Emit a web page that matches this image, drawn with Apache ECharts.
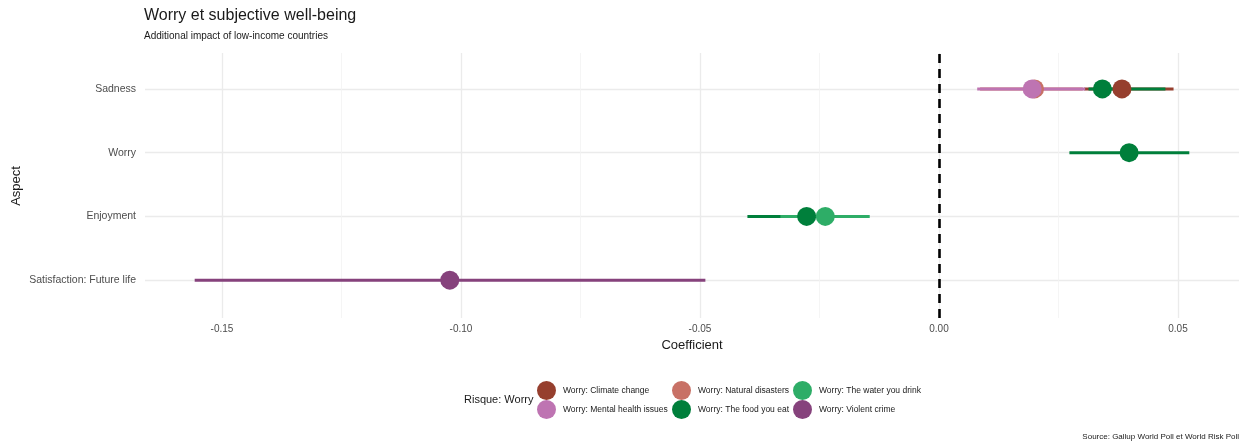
<!DOCTYPE html>
<html>
<head>
<meta charset="utf-8">
<script src="https://cdn.jsdelivr.net/npm/echarts@6/dist/echarts.min.js"></script>
<style>
  html, body { margin: 0; padding: 0; background: #fff; }
  #chart { width: 1242px; height: 448px; }
</style>
</head>
<body>
<div id="chart"></div>
<script>
// aspects, top to bottom
const aspects = ['Sadness', 'Worry', 'Enjoyment', 'Satisfaction: Future life'];
const xTicks = [-0.15, -0.1, -0.05, 0, 0.05];

// coef / lower / upper per risk, one value per aspect (null = not shown)
const climateCoef = [0.0382, null, null, null];
const climateLo = [0.0303, null, null, null];
const climateHi = [0.0490, null, null, null];

const mentalCoef = [0.0194, null, null, null];
const mentalLo = [0.0079, null, null, null];
const mentalHi = [0.0305, null, null, null];

const naturalCoef = [0.0199, null, null, null];
const naturalLo = [0.0085, null, null, null];
const naturalHi = [0.0300, null, null, null];

const foodCoef = [0.0341, 0.0397, -0.0278, null];
const foodLo = [0.0312, 0.0272, -0.0402, null];
const foodHi = [0.0473, 0.0523, -0.0160, null];

const waterCoef = [null, null, -0.0239, null];
const waterLo = [null, null, -0.0333, null];
const waterHi = [null, null, -0.0146, null];

const violentCoef = [null, null, null, -0.1025];
const violentLo = [null, null, null, -0.1559];
const violentHi = [null, null, null, -0.0490];

const risks = [
  { name: 'Worry: Climate change', color: '#963F2E', coef: climateCoef, lo: climateLo, hi: climateHi },
  { name: 'Worry: Mental health issues', color: '#BE74B2', coef: mentalCoef, lo: mentalLo, hi: mentalHi },
  { name: 'Worry: Natural disasters', color: '#C87166', coef: naturalCoef, lo: naturalLo, hi: naturalHi },
  { name: 'Worry: The food you eat', color: '#007F3B', coef: foodCoef, lo: foodLo, hi: foodHi },
  { name: 'Worry: The water you drink', color: '#2EAD67', coef: waterCoef, lo: waterLo, hi: waterHi },
  { name: 'Worry: Violent crime', color: '#86427C', coef: violentCoef, lo: violentLo, hi: violentHi },
];
const byName = {};
risks.forEach(r => { byName[r.name] = r; });

// drawing order (later = on top)
const lineOrder = ['Worry: Climate change', 'Worry: Natural disasters', 'Worry: The food you eat',
  'Worry: Mental health issues', 'Worry: The water you drink', 'Worry: Violent crime'];
const pointOrder = ['Worry: The food you eat', 'Worry: Climate change', 'Worry: Natural disasters',
  'Worry: Mental health issues', 'Worry: The water you drink', 'Worry: Violent crime'];

const FONT = '"Liberation Sans", Arial, sans-serif';

const chart = echarts.init(document.getElementById('chart'));

const series = [];
lineOrder.forEach(n => {
  const r = byName[n];
  const data = [];
  aspects.forEach((a, i) => {
    if (r.lo[i] != null) data.push([r.lo[i], r.hi[i], a]);
  });
  series.push({
    type: 'custom',
    name: 'bar_' + n,
    xAxisIndex: 0,
    yAxisIndex: 0,
    silent: true,
    clip: false,
    encode: { x: [0, 1], y: 2 },
    data: data,
    renderItem: function (params, api) {
      const p1 = api.coord([api.value(0), api.value(2)]);
      const p2 = api.coord([api.value(1), api.value(2)]);
      return {
        type: 'line',
        shape: { x1: p1[0], y1: p1[1], x2: p2[0], y2: p2[1] },
        style: { stroke: r.color, lineWidth: 3 },
      };
    },
  });
});
pointOrder.forEach(n => {
  const r = byName[n];
  const data = [];
  aspects.forEach((a, i) => {
    if (r.coef[i] != null) data.push([r.coef[i], a]);
  });
  series.push({
    type: 'scatter',
    name: n,
    xAxisIndex: 0,
    yAxisIndex: 0,
    symbol: 'circle',
    symbolSize: 19,
    itemStyle: { color: r.color, opacity: 1 },
    data: data,
  });
});
// zero reference line on the tick grid
series.push({
  type: 'line',
  xAxisIndex: 1,
  yAxisIndex: 1,
  data: [],
  markLine: {
    silent: true,
    symbol: 'none',
    label: { show: false },
    lineStyle: { color: '#000', type: [9, 6], width: 2.6 },
    data: [{ xAxis: 0 }],
  },
});

// legend: 2 rows x 3 columns
const legendSlots = [
  ['Worry: Climate change', 537, 381],
  ['Worry: Mental health issues', 537, 400],
  ['Worry: Natural disasters', 672, 381],
  ['Worry: The food you eat', 672, 400],
  ['Worry: The water you drink', 793, 381],
  ['Worry: Violent crime', 793, 400],
];
const legends = legendSlots.map(s => ({
  data: [s[0]],
  left: s[1],
  top: s[2],
  padding: 0,
  icon: 'circle',
  itemWidth: 19,
  itemHeight: 19,
  itemGap: 0,
  selectedMode: false,
  textStyle: { fontSize: 8.5, color: '#1a1a1a', fontFamily: FONT, padding: [0, 0, 0, 2] },
}));

const option = {
  backgroundColor: '#fff',
  animation: false,
  textStyle: { fontFamily: FONT },
  title: [
    {
      text: 'Worry et subjective well-being',
      left: 144, top: 8, padding: 0,
      textStyle: { fontSize: 16, fontWeight: 'normal', color: '#1a1a1a', fontFamily: FONT },
    },
    {
      text: 'Additional impact of low-income countries',
      left: 144, top: 31, padding: 0,
      textStyle: { fontSize: 10, fontWeight: 'normal', color: '#1a1a1a', fontFamily: FONT },
    },
    {
      text: 'Coefficient',
      left: 692, top: 339, padding: 0, textAlign: 'center',
      textStyle: { fontSize: 13, fontWeight: 'normal', color: '#1a1a1a', fontFamily: FONT },
    },
    {
      text: 'Source: Gallup World Poll et World Risk Poll',
      right: 3, top: 433, padding: 0,
      textStyle: { fontSize: 8, fontWeight: 'normal', color: '#1a1a1a', fontFamily: FONT },
    },
  ],
  graphic: [
    {
      type: 'text',
      x: 16, y: 186,
      rotation: Math.PI / 2,
      style: { text: 'Aspect', font: '13px ' + FONT, fill: '#1a1a1a', textAlign: 'center', textVerticalAlign: 'middle' },
    },
    {
      type: 'text',
      x: 464, y: 400,
      style: { text: 'Risque: Worry', font: '11px ' + FONT, fill: '#1a1a1a', textAlign: 'left', textVerticalAlign: 'middle' },
    },
  ],
  legend: legends,
  grid: [
    // data grid (full panel width)
    { left: 145, right: 3, top: 57, height: 255 },
    // tick grid (spans exactly -0.15 .. 0.05)
    { left: 222, right: 64, top: 53, height: 265 },
  ],
  xAxis: [
    {
      gridIndex: 0,
      type: 'value',
      min: -0.1663,
      max: 0.0627,
      show: false,
      splitLine: { show: false },
    },
    {
      gridIndex: 1,
      type: 'value',
      min: xTicks[0],
      max: xTicks[xTicks.length - 1],
      interval: 0.05,
      axisLine: { show: false },
      axisTick: { show: false },
      axisLabel: {
        fontSize: 10, color: '#4d4d4d', margin: 6, fontFamily: FONT,
        formatter: v => v.toFixed(2),
      },
      splitLine: { show: true, lineStyle: { color: '#ebebeb', width: 1.3 } },
      minorTick: { show: false, splitNumber: 2 },
      minorSplitLine: { show: true, lineStyle: { color: '#f2f2f2', width: 0.8 } },
    },
  ],
  yAxis: [
    {
      gridIndex: 0,
      type: 'category',
      data: aspects,
      inverse: true,
      axisLine: { show: false },
      axisTick: { show: false },
      axisLabel: { fontSize: 10.5, color: '#4d4d4d', margin: 9, fontFamily: FONT },
      splitLine: { show: true, alignWithLabel: true, lineStyle: { color: '#ebebeb', width: 1.3 } },
    },
    {
      gridIndex: 1,
      type: 'value',
      min: 0,
      max: 1,
      show: false,
      splitLine: { show: false },
    },
  ],
  series: series,
};

chart.setOption(option);
</script>
</body>
</html>
